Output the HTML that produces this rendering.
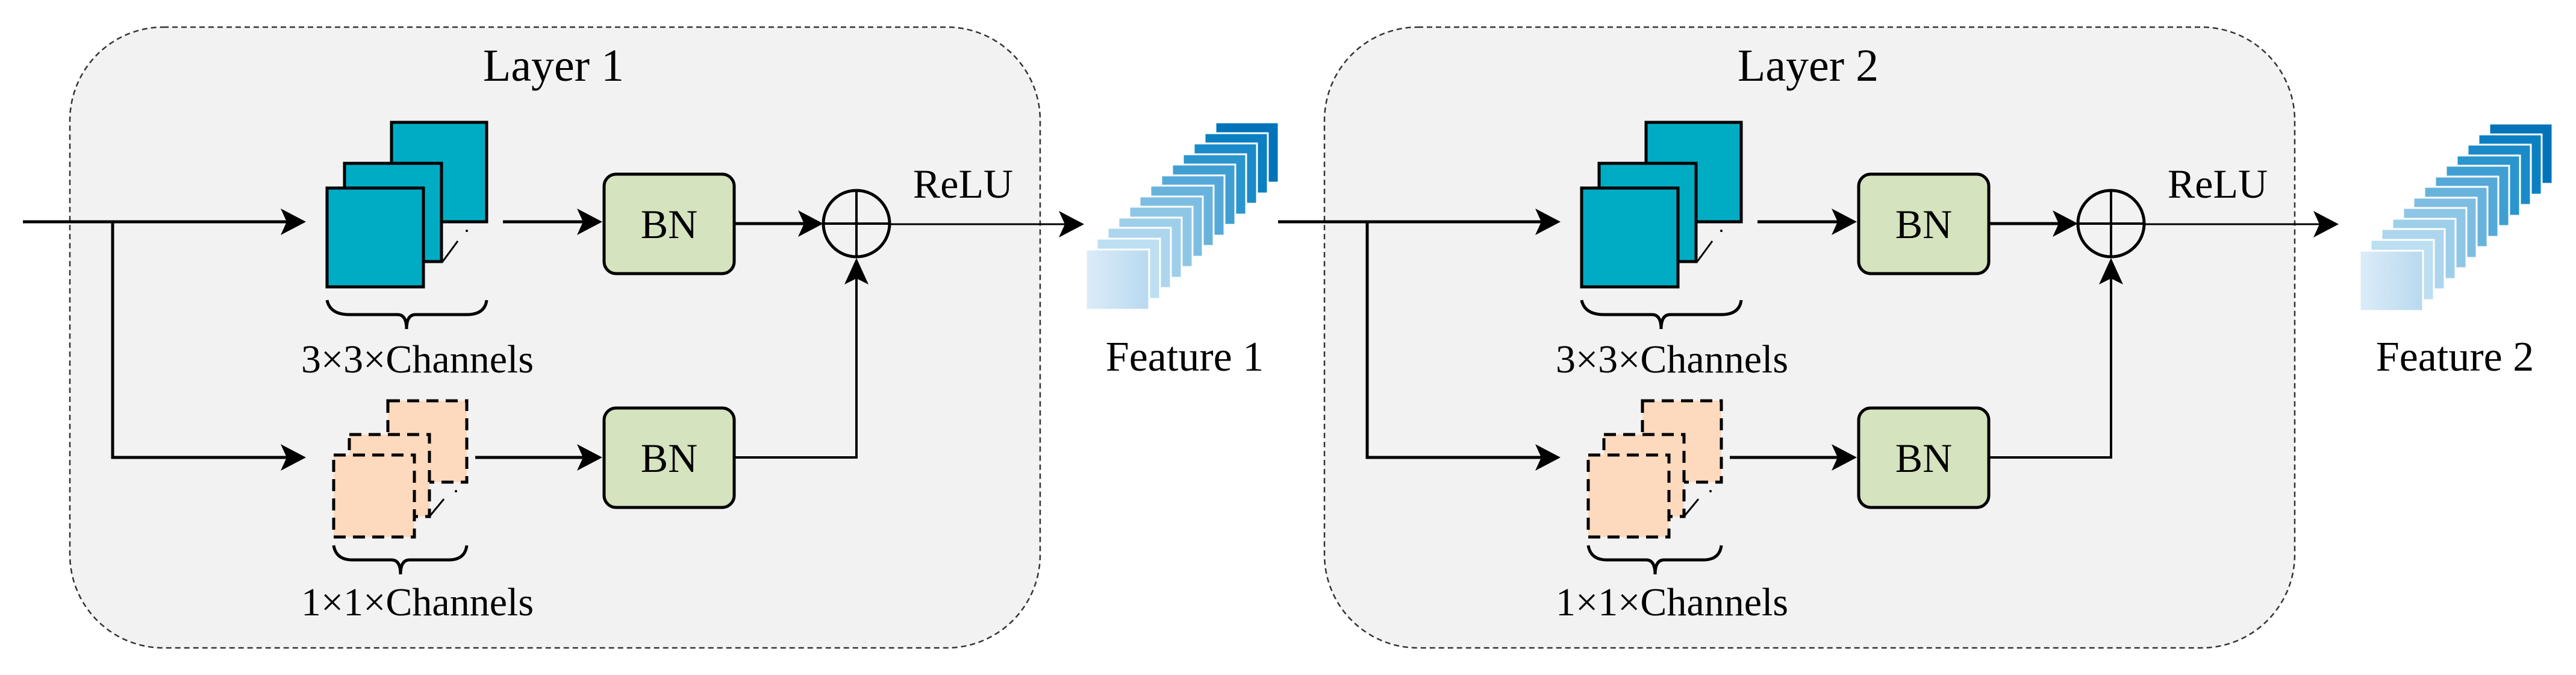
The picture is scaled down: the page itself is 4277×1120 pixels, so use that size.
<!DOCTYPE html>
<html><head><meta charset="utf-8"><style>html,body{margin:0;padding:0;background:#fff;}svg{display:block}text{font-family:"Liberation Serif","DejaVu Serif",serif;}</style></head>
<body>
<svg width="4277" height="1120" viewBox="0 0 4277 1120" xmlns="http://www.w3.org/2000/svg" font-family="'Liberation Serif', serif">
<defs>
<symbol id="arrowR" overflow="visible"><path d="M0,0 L-42,-22 L-32,0 L-42,22 Z" fill="#000"/></symbol>
<linearGradient id="g0" x1="0" x2="1"><stop offset="0" stop-color="#dcecf8"/><stop offset="1" stop-color="#b8d9f0"/></linearGradient>
</defs>

<g id="layer">
  <rect x="116" y="45" width="1611" height="1030" rx="155" ry="155" fill="#f2f2f2" stroke="#333" stroke-width="2.5" stroke-dasharray="9,6"/>
  <text x="919" y="134" font-size="76" text-anchor="middle">Layer 1</text>
  <line x1="38" y1="368" x2="500" y2="368" stroke="#000" stroke-width="5"/>
  <use href="#arrowR" x="508" y="368"/>
  <polyline points="187,368 187,759 500,759" fill="none" stroke="#000" stroke-width="5"/>
  <use href="#arrowR" x="508" y="759"/>
  <rect x="650" y="203" width="158" height="165" fill="#00acc4" stroke="#000" stroke-width="5"/>
  <rect x="572" y="271" width="161" height="163" fill="#00acc4" stroke="#000" stroke-width="5"/>
  <rect x="543" y="312" width="160" height="164" fill="#00acc4" stroke="#000" stroke-width="5"/>
  <line x1="735" y1="434" x2="760" y2="400" stroke="#000" stroke-width="3"/>
  <circle cx="775" cy="383" r="2" fill="#000"/><circle cx="790" cy="368" r="2" fill="#000"/>
  <line x1="835" y1="368" x2="990" y2="368" stroke="#000" stroke-width="5"/>
  <use href="#arrowR" x="1000" y="368"/>
  <path d="M543,498 Q548,522 580,522 L660,522 Q675,522 675,546 Q675,522 690,522 L775,522 Q805,522 808,498" fill="none" stroke="#000" stroke-width="5"/>
  <text x="693" y="618" font-size="66" text-anchor="middle">3×3×Channels</text>
  <rect x="1003" y="289" width="216" height="165" rx="20" fill="#d5e3be" stroke="#000" stroke-width="5"/>
  <text x="1111" y="395" font-size="68" text-anchor="middle">BN</text>
  <line x1="1219" y1="371" x2="1360" y2="371" stroke="#000" stroke-width="5"/>
  <use href="#arrowR" x="1367" y="371"/>
  <circle cx="1422" cy="371" r="55" fill="none" stroke="#000" stroke-width="5"/>
  <line x1="1367" y1="371" x2="1477" y2="371" stroke="#000" stroke-width="4"/>
  <line x1="1422" y1="316" x2="1422" y2="426" stroke="#000" stroke-width="4"/>
  <text x="1599" y="328" font-size="68" text-anchor="middle">ReLU</text>
  <line x1="1477" y1="372" x2="1790" y2="372" stroke="#000" stroke-width="3"/>
  <use href="#arrowR" x="1800" y="372"/>
  <rect x="644" y="665" width="131" height="135" fill="#fdd9bd" stroke="#000" stroke-width="5" stroke-dasharray="20,12"/>
  <rect x="580" y="721" width="133" height="136" fill="#fdd9bd" stroke="#000" stroke-width="5" stroke-dasharray="20,12"/>
  <rect x="554" y="755" width="134" height="136" fill="#fdd9bd" stroke="#000" stroke-width="5" stroke-dasharray="20,12"/>
  <line x1="713" y1="857" x2="737" y2="828" stroke="#000" stroke-width="3"/>
  <circle cx="757" cy="815" r="2" fill="#000"/><circle cx="770" cy="800" r="2" fill="#000"/>
  <line x1="789" y1="759" x2="990" y2="759" stroke="#000" stroke-width="5"/>
  <use href="#arrowR" x="1000" y="759"/>
  <path d="M554,905 Q558,929 585,929 L650,929 Q665,929 665,953 Q665,929 680,929 L745,929 Q772,929 775,905" fill="none" stroke="#000" stroke-width="5"/>
  <text x="693" y="1021" font-size="66" text-anchor="middle">1×1×Channels</text>
  <rect x="1003" y="677" width="216" height="165" rx="20" fill="#d5e3be" stroke="#000" stroke-width="5"/>
  <text x="1111" y="783" font-size="68" text-anchor="middle">BN</text>
  <polyline points="1219,759 1422,759 1422,440" fill="none" stroke="#000" stroke-width="4"/>
  <path d="M1422,428 L1402,472 L1422,462 L1442,472 Z" fill="#000"/>
  <g stroke="#fff" stroke-width="3">
    <rect x="2018" y="203" width="105" height="100" fill="#0073b9"/>
    <rect x="2000" y="221" width="105" height="100" fill="#0a80c2"/>
    <rect x="1982" y="238" width="105" height="100" fill="#1a8bc8"/>
    <rect x="1964" y="256" width="105" height="100" fill="#2b95cd"/>
    <rect x="1946" y="273" width="105" height="100" fill="#3f9fd2"/>
    <rect x="1928" y="291" width="105" height="100" fill="#55a9d8"/>
    <rect x="1910" y="308" width="105" height="100" fill="#68b3dc"/>
    <rect x="1892" y="326" width="105" height="100" fill="#7dbde2"/>
    <rect x="1875" y="343" width="105" height="100" fill="#8ec6e6"/>
    <rect x="1857" y="361" width="105" height="100" fill="#9ecfea"/>
    <rect x="1839" y="378" width="105" height="100" fill="#add6ee"/>
    <rect x="1821" y="396" width="105" height="100" fill="#bcdff1"/>
    <rect x="1803" y="414" width="105" height="100" fill="url(#g0)"/>
  </g>
  <text x="1967" y="615" font-size="70" text-anchor="middle">Feature 1</text>
</g>
<g transform="translate(2083,0)">
  <rect x="116" y="45" width="1611" height="1030" rx="155" ry="155" fill="#f2f2f2" stroke="#333" stroke-width="2.5" stroke-dasharray="9,6"/>
  <text x="919" y="134" font-size="76" text-anchor="middle">Layer 2</text>
  <line x1="39" y1="368" x2="500" y2="368" stroke="#000" stroke-width="5"/>
  <use href="#arrowR" x="508" y="368"/>
  <polyline points="187,368 187,759 500,759" fill="none" stroke="#000" stroke-width="5"/>
  <use href="#arrowR" x="508" y="759"/>
  <rect x="650" y="203" width="158" height="165" fill="#00acc4" stroke="#000" stroke-width="5"/>
  <rect x="572" y="271" width="161" height="163" fill="#00acc4" stroke="#000" stroke-width="5"/>
  <rect x="543" y="312" width="160" height="164" fill="#00acc4" stroke="#000" stroke-width="5"/>
  <line x1="735" y1="434" x2="760" y2="400" stroke="#000" stroke-width="3"/>
  <circle cx="775" cy="383" r="2" fill="#000"/><circle cx="790" cy="368" r="2" fill="#000"/>
  <line x1="835" y1="368" x2="990" y2="368" stroke="#000" stroke-width="5"/>
  <use href="#arrowR" x="1000" y="368"/>
  <path d="M543,498 Q548,522 580,522 L660,522 Q675,522 675,546 Q675,522 690,522 L775,522 Q805,522 808,498" fill="none" stroke="#000" stroke-width="5"/>
  <text x="693" y="618" font-size="66" text-anchor="middle">3×3×Channels</text>
  <rect x="1003" y="289" width="216" height="165" rx="20" fill="#d5e3be" stroke="#000" stroke-width="5"/>
  <text x="1111" y="395" font-size="68" text-anchor="middle">BN</text>
  <line x1="1219" y1="371" x2="1360" y2="371" stroke="#000" stroke-width="5"/>
  <use href="#arrowR" x="1367" y="371"/>
  <circle cx="1422" cy="371" r="55" fill="none" stroke="#000" stroke-width="5"/>
  <line x1="1367" y1="371" x2="1477" y2="371" stroke="#000" stroke-width="4"/>
  <line x1="1422" y1="316" x2="1422" y2="426" stroke="#000" stroke-width="4"/>
  <text x="1599" y="328" font-size="68" text-anchor="middle">ReLU</text>
  <line x1="1477" y1="372" x2="1790" y2="372" stroke="#000" stroke-width="3"/>
  <use href="#arrowR" x="1800" y="372"/>
  <rect x="644" y="665" width="131" height="135" fill="#fdd9bd" stroke="#000" stroke-width="5" stroke-dasharray="20,12"/>
  <rect x="580" y="721" width="133" height="136" fill="#fdd9bd" stroke="#000" stroke-width="5" stroke-dasharray="20,12"/>
  <rect x="554" y="755" width="134" height="136" fill="#fdd9bd" stroke="#000" stroke-width="5" stroke-dasharray="20,12"/>
  <line x1="713" y1="857" x2="737" y2="828" stroke="#000" stroke-width="3"/>
  <circle cx="757" cy="815" r="2" fill="#000"/><circle cx="770" cy="800" r="2" fill="#000"/>
  <line x1="789" y1="759" x2="990" y2="759" stroke="#000" stroke-width="5"/>
  <use href="#arrowR" x="1000" y="759"/>
  <path d="M554,905 Q558,929 585,929 L650,929 Q665,929 665,953 Q665,929 680,929 L745,929 Q772,929 775,905" fill="none" stroke="#000" stroke-width="5"/>
  <text x="693" y="1021" font-size="66" text-anchor="middle">1×1×Channels</text>
  <rect x="1003" y="677" width="216" height="165" rx="20" fill="#d5e3be" stroke="#000" stroke-width="5"/>
  <text x="1111" y="783" font-size="68" text-anchor="middle">BN</text>
  <polyline points="1219,759 1422,759 1422,440" fill="none" stroke="#000" stroke-width="4"/>
  <path d="M1422,428 L1402,472 L1422,462 L1442,472 Z" fill="#000"/>
  <g transform="translate(32,2)" stroke="#fff" stroke-width="3">
    <rect x="2018" y="203" width="105" height="100" fill="#0073b9"/>
    <rect x="2000" y="221" width="105" height="100" fill="#0a80c2"/>
    <rect x="1982" y="238" width="105" height="100" fill="#1a8bc8"/>
    <rect x="1964" y="256" width="105" height="100" fill="#2b95cd"/>
    <rect x="1946" y="273" width="105" height="100" fill="#3f9fd2"/>
    <rect x="1928" y="291" width="105" height="100" fill="#55a9d8"/>
    <rect x="1910" y="308" width="105" height="100" fill="#68b3dc"/>
    <rect x="1892" y="326" width="105" height="100" fill="#7dbde2"/>
    <rect x="1875" y="343" width="105" height="100" fill="#8ec6e6"/>
    <rect x="1857" y="361" width="105" height="100" fill="#9ecfea"/>
    <rect x="1839" y="378" width="105" height="100" fill="#add6ee"/>
    <rect x="1821" y="396" width="105" height="100" fill="#bcdff1"/>
    <rect x="1803" y="414" width="105" height="100" fill="url(#g0)"/>
  </g>
  <text x="1993" y="615" font-size="70" text-anchor="middle">Feature 2</text>
</g>
</svg>
</body></html>
